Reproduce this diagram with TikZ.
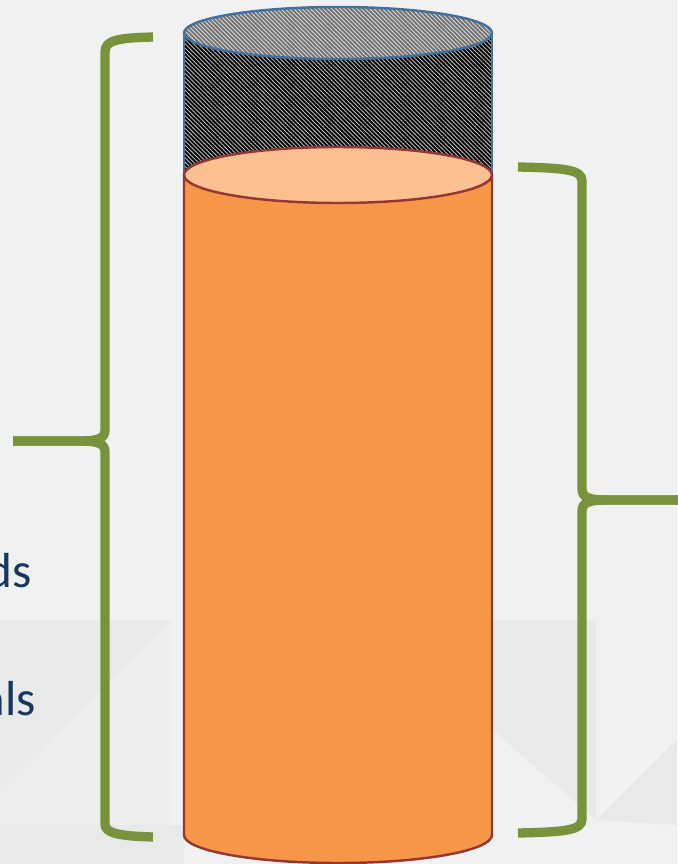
\documentclass[tikz,border=0pt]{standalone}
\usepackage{fontspec}
\setmainfont{Carlito}
\usetikzlibrary{patterns.meta}

\definecolor{slideBg}{HTML}{F0F2F2}
\definecolor{slideTileA}{HTML}{E8EAEA}
\definecolor{slideTileB}{HTML}{ECEEEE}
\definecolor{braceGreen}{HTML}{77933C}
\definecolor{fillOrange}{HTML}{F79646}
\definecolor{fillPeach}{HTML}{FAC090}
\definecolor{edgeRed}{HTML}{953735}
\definecolor{edgeBlue}{HTML}{41719C}
\definecolor{textNavy}{HTML}{17375E}

\begin{document}
\begin{tikzpicture}[x=0.02cm, y=0.02cm,
		brace/.style={draw=braceGreen, line width=5.3pt, line cap=butt},
		sidetext/.style={font=\fontsize{28}{34}\selectfont, text=textNavy, inner sep=0pt, anchor=base east},
		hatchside/.style={pattern={Lines[angle=-45, distance=1.7pt, line width=0.5pt]}, pattern color=black!25!white},
		hatchtop/.style={pattern={Lines[angle=-45, distance=1.7pt, line width=0.5pt]}, pattern color=black!15},
		bluerim/.style={draw=edgeBlue, line width=1.4pt},
		redrim/.style={draw=edgeRed, line width=1.4pt}
		]
		
		% Slide background
		\useasboundingbox (0,0) rectangle (677,-864);
		\fill[slideBg] (0,0) rectangle (677,-864);
		\fill[slideTileB] (0,-620) rectangle (172,-825);
		\fill[slideTileA] (0,-620) -- (172,-620) -- (0,-787) -- cycle;
		\fill[slideTileA] (0,-825) rectangle (184,-864);
		\fill[slideTileA] (493,-620) -- (596,-620) -- (596,-820) -- (493,-730) -- cycle;
		\fill[slideTileA] (596,-820) -- (677,-740) -- (677,-825) -- cycle;
		
		% Hatched upper part of the cylinder
		\fill[black] (184,-33) rectangle (492,-175);
		\fill[hatchside] (184,-33) rectangle (492,-175);
		\draw[bluerim] (184,-33) -- (184,-175) (492,-33) -- (492,-175);
		\fill[black!55] (338,-33) ellipse [x radius=154, y radius=26];
		\fill[hatchtop] (338,-33) ellipse [x radius=154, y radius=26];
		\draw[bluerim] (338,-33) ellipse [x radius=154, y radius=26];
		
		% Orange lower part of the cylinder
		\filldraw[redrim, fill=fillOrange] (184,-175) -- (184,-835)
			arc[start angle=180, end angle=360, x radius=154, y radius=28]
			-- (492,-175) -- cycle;
		\filldraw[redrim, fill=fillPeach] (338,-175) ellipse [x radius=154, y radius=28];
		
		% Left brace
		\coordinate (ltop) at (153,-37);
		\coordinate (ltip) at (13,-441);
		\coordinate (lbot) at (153,-837);
		\draw[brace] (ltop) .. controls (118,-38) and (105,-40) .. (105,-52)
			-- (105,-430) .. controls (105,-438) and (99,-441) .. (80,-441) -- (ltip);
		\draw[brace] (ltip) -- (80,-441) .. controls (99,-441) and (105,-444) .. (105,-452)
			-- (105,-824) .. controls (105,-833) and (118,-836) .. (lbot);
		
		% Right brace
		\coordinate (rtop) at (518,-167);
		\coordinate (rtip) at (680,-500);
		\coordinate (rbot) at (518,-833);
		\draw[brace] (rtop) .. controls (567,-168) and (582,-170) .. (582,-181)
			-- (582,-489) .. controls (582,-497) and (588,-500) .. (607,-500) -- (rtip);
		\draw[brace] (rtip) -- (607,-500) .. controls (588,-500) and (582,-503) .. (582,-511)
			-- (582,-819) .. controls (582,-830) and (567,-832) .. (rbot);
		
		% Cut-off text on the left
		\node[sidetext] (txtds) at (32,-587) {ds};
		\node[sidetext] (txtals) at (36,-715) {als};
		
	\end{tikzpicture}
\end{document}
